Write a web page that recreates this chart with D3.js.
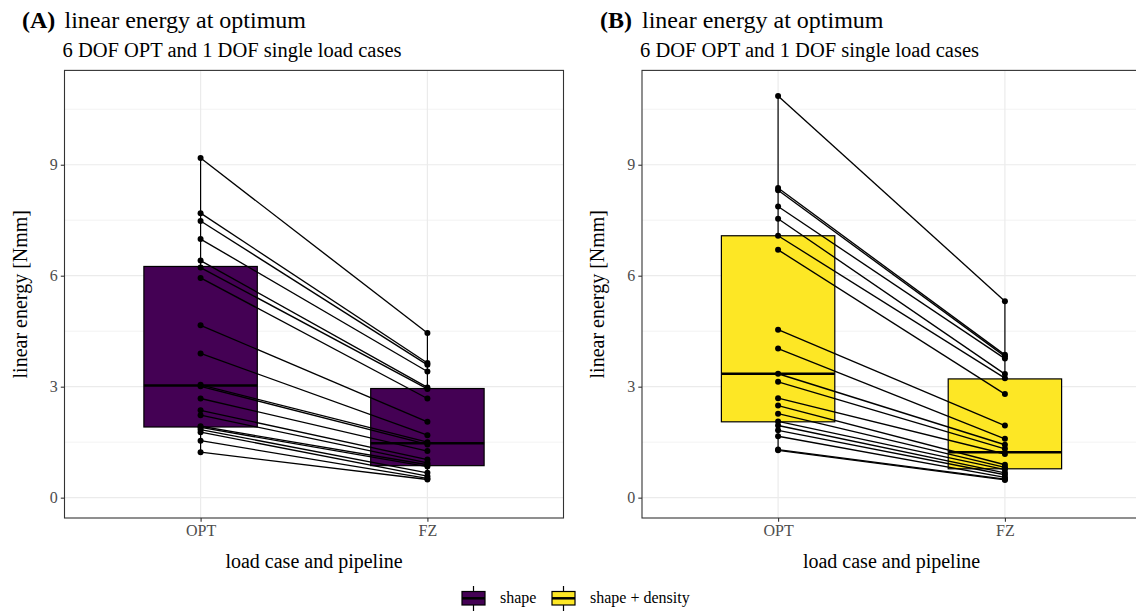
<!DOCTYPE html>
<html>
<head>
<meta charset="utf-8">
<script src="https://cdn.jsdelivr.net/npm/d3@7"></script>
<style>
  body { margin: 0; background: #fff; }
  svg { display: block; font-family: "Liberation Serif", "DejaVu Serif", serif; }
</style>
</head>
<body>
<div id="chart"></div>
<script>
// load cases on the x axis
var loadCases = ['OPT', 'FZ'];
var yTicks = [0, 3, 6, 9];
var yMinor = [1.5, 4.5, 7.5, 10.5];
var yLimits = [0, 11];

// (A) shape: one value per specimen, OPT and FZ paired by index
var shapeOPT = [1.23, 1.54, 1.77, 1.84, 1.90, 1.93, 2.23, 2.36, 2.68, 3.01,
                3.05, 3.90, 4.66, 5.94, 6.22, 6.41, 6.99, 7.48, 7.69, 9.18];
var shapeFZ  = [0.49, 0.52, 0.58, 0.67, 0.84, 0.89, 0.94, 1.03, 1.26, 1.44,
                1.50, 1.69, 2.05, 2.68, 2.94, 2.98, 3.41, 3.59, 3.64, 4.45];
// (B) shape + density
var densOPT  = [1.28, 1.30, 1.66, 1.82, 1.95, 2.06, 2.27, 2.49, 2.69, 3.13,
                3.35, 4.03, 4.54, 6.70, 7.08, 7.54, 7.87, 8.31, 8.37, 10.86];
var densFZ   = [0.48, 0.50, 0.55, 0.62, 0.67, 0.76, 0.82, 0.89, 1.18, 1.32,
                1.43, 1.59, 1.95, 2.80, 3.23, 3.34, 3.76, 3.82, 3.86, 5.31];

// box hinges [OPT, FZ]
var shapeQ1 = [1.91, 0.865], shapeMed = [3.03, 1.47], shapeQ3 = [6.25, 2.95];
var densQ1  = [2.05, 0.78],  densMed  = [3.35, 1.23], densQ3  = [7.08, 3.21];

var pipelines = ['shape', 'shape + density'];
var fills = ['#440154', '#FDE725'];

var W = 1136, H = 613;
var panelW = 499, panelTop = 70.4, panelBottom = 518;

var svg = d3.select('#chart').append('svg')
    .attr('width', W)
    .attr('height', H);

var y = d3.scaleLinear()
    .domain([yLimits[0] - 0.55, yLimits[1] + 0.55])
    .range([panelBottom, panelTop]);

var panels = [
  { tag: '(A)', tagX: 22, x0: 64.5, opt: shapeOPT, fz: shapeFZ, q1: shapeQ1, med: shapeMed, q3: shapeQ3, fill: fills[0] },
  { tag: '(B)', tagX: 600, x0: 642, opt: densOPT, fz: densFZ, q1: densQ1, med: densMed, q3: densQ3, fill: fills[1] }
];

panels.forEach(drawPanel);

function drawPanel(p) {
  var g = svg.append('g');
  var x = d3.scalePoint()
      .domain(loadCases)
      .range([p.x0, p.x0 + panelW])
      .padding(0.6);
  var bw = x.step() * 0.5;

  g.append('rect')
      .attr('x', p.x0).attr('y', panelTop)
      .attr('width', panelW).attr('height', panelBottom - panelTop)
      .style('fill', 'white');

  // grid
  g.selectAll('.minor').data(yMinor).enter().append('line')
      .attr('x1', p.x0).attr('x2', p.x0 + panelW)
      .attr('y1', function(d) { return y(d); }).attr('y2', function(d) { return y(d); })
      .style('stroke', '#EBEBEB').style('stroke-width', 0.6);
  g.selectAll('.major').data(yTicks).enter().append('line')
      .attr('x1', p.x0).attr('x2', p.x0 + panelW)
      .attr('y1', function(d) { return y(d); }).attr('y2', function(d) { return y(d); })
      .style('stroke', '#EBEBEB').style('stroke-width', 1.2);
  g.selectAll('.vmajor').data(loadCases).enter().append('line')
      .attr('x1', function(d) { return x(d); }).attr('x2', function(d) { return x(d); })
      .attr('y1', panelTop).attr('y2', panelBottom)
      .style('stroke', '#EBEBEB').style('stroke-width', 1.2);

  // boxes
  loadCases.forEach(function(c, i) {
    var vals = i == 0 ? p.opt : p.fz;
    var cx = x(c);
    g.append('line')
        .attr('x1', cx).attr('x2', cx)
        .attr('y1', y(d3.max(vals))).attr('y2', y(p.q3[i]))
        .style('stroke', 'black').style('stroke-width', 1.2);
    g.append('line')
        .attr('x1', cx).attr('x2', cx)
        .attr('y1', y(p.q1[i])).attr('y2', y(d3.min(vals)))
        .style('stroke', 'black').style('stroke-width', 1.2);
    g.append('rect')
        .attr('x', cx - bw / 2).attr('y', y(p.q3[i]))
        .attr('width', bw).attr('height', y(p.q1[i]) - y(p.q3[i]))
        .style('fill', p.fill).style('stroke', 'black').style('stroke-width', 1.2);
    g.append('line')
        .attr('x1', cx - bw / 2).attr('x2', cx + bw / 2)
        .attr('y1', y(p.med[i])).attr('y2', y(p.med[i]))
        .style('stroke', 'black').style('stroke-width', 2.5);
  });

  // paired lines per specimen
  g.selectAll('.pair').data(d3.range(p.opt.length)).enter().append('line')
      .attr('x1', x('OPT')).attr('x2', x('FZ'))
      .attr('y1', function(i) { return y(p.opt[i]); })
      .attr('y2', function(i) { return y(p.fz[i]); })
      .style('stroke', 'black').style('stroke-width', 1.35);

  // points
  g.selectAll('.pt-opt').data(p.opt).enter().append('circle')
      .attr('cx', x('OPT')).attr('cy', function(d) { return y(d); })
      .attr('r', 3).style('fill', 'black');
  g.selectAll('.pt-fz').data(p.fz).enter().append('circle')
      .attr('cx', x('FZ')).attr('cy', function(d) { return y(d); })
      .attr('r', 3).style('fill', 'black');

  // border
  g.append('rect')
      .attr('x', p.x0).attr('y', panelTop)
      .attr('width', panelW).attr('height', panelBottom - panelTop)
      .style('fill', 'none').style('stroke', '#333333').style('stroke-width', 1.1);

  // axes
  var ya = g.append('g')
      .attr('transform', 'translate(' + p.x0 + ',0)')
      .call(d3.axisLeft(y).tickValues(yTicks).tickSize(3.7).tickPadding(3));
  var xa = g.append('g')
      .attr('transform', 'translate(0,' + panelBottom + ')')
      .call(d3.axisBottom(x).tickSize(3.7).tickPadding(3));
  [ya, xa].forEach(function(a) {
    a.select('.domain').remove();
    a.selectAll('.tick line').style('stroke', '#333333').style('stroke-width', 1.1);
    a.selectAll('.tick text')
        .style('fill', '#4D4D4D')
        .style('font-size', '16px')
        .style('font-family', '"Liberation Serif", serif');
  });

  // axis titles
  g.append('text')
      .attr('x', p.x0 + panelW / 2).attr('y', 568)
      .attr('text-anchor', 'middle')
      .style('font-size', '20px')
      .text('load case and pipeline');
  g.append('text')
      .attr('transform', 'translate(' + (p.x0 - 38) + ',' + ((panelTop + panelBottom) / 2) + ') rotate(-90)')
      .attr('text-anchor', 'middle')
      .style('font-size', '20px')
      .text('linear energy [Nmm]');

  // tag, title, subtitle
  g.append('text')
      .attr('x', p.tagX).attr('y', 28)
      .style('font-size', '24px').style('font-weight', 'bold')
      .text(p.tag);
  g.append('text')
      .attr('x', p.x0).attr('y', 28)
      .style('font-size', '24px')
      .text('linear energy at optimum');
  g.append('text')
      .attr('x', p.x0 - 2).attr('y', 56.5)
      .style('font-size', '20.5px')
      .text('6 DOF OPT and 1 DOF single load cases');
}

// legend
var legendX = [462, 552];
var leg = svg.append('g');
pipelines.forEach(function(name, i) {
  var lx = legendX[i];
  leg.append('line')
      .attr('x1', lx + 11.5).attr('x2', lx + 11.5)
      .attr('y1', 586).attr('y2', 611)
      .style('stroke', 'black').style('stroke-width', 1.2);
  leg.append('rect')
      .attr('x', lx).attr('y', 591.5)
      .attr('width', 23).attr('height', 13.5)
      .style('fill', fills[i]).style('stroke', 'black').style('stroke-width', 1.2);
  leg.append('line')
      .attr('x1', lx).attr('x2', lx + 23)
      .attr('y1', 598.3).attr('y2', 598.3)
      .style('stroke', 'black').style('stroke-width', 2.5);
  leg.append('text')
      .attr('x', lx + 38).attr('y', 603)
      .style('font-size', '16px')
      .text(name);
});
</script>
</body>
</html>
